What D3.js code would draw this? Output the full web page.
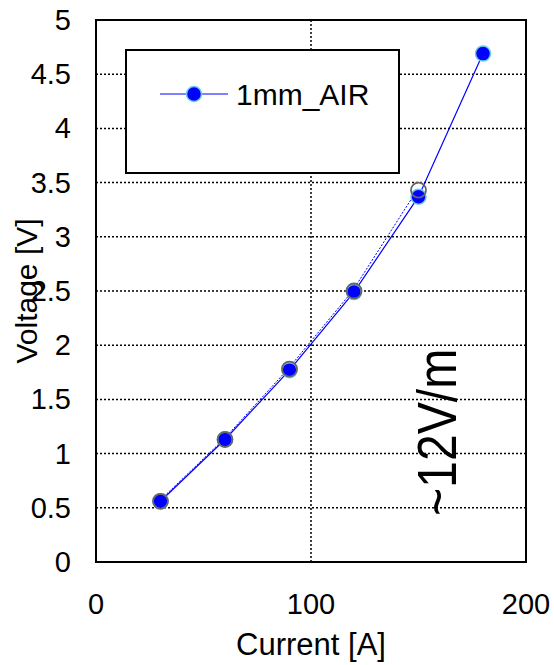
<!DOCTYPE html>
<html><head><meta charset="utf-8">
<script src="https://cdn.jsdelivr.net/npm/d3@7"></script>
<style>body{margin:0;background:#fff}text{font-family:"Liberation Sans",Arial,sans-serif;fill:#000}</style>
</head><body><svg id="c" width="554" height="665"></svg>
<script>
const current = [30, 60, 90, 120, 150, 180];
const voltage = [0.56, 1.13, 1.77, 2.49, 3.37, 4.69];
const current2 = [30, 60, 90, 120, 150];
const voltage2 = [0.56, 1.13, 1.78, 2.50, 3.43];
const xTicks = [0, 100, 200];
const yTicks = [0, 0.5, 1, 1.5, 2, 2.5, 3, 3.5, 4, 4.5, 5];
const seriesName = "1mm_AIR";

const svg = d3.select("#c");
const x = d3.scaleLinear().domain([0, 200]).range([96, 526]);
const y = d3.scaleLinear().domain([0, 5]).range([562, 20]);

// gridlines
svg.append("g").selectAll("line").data(yTicks.filter(d => d > 0 && d < 5)).join("line")
  .attr("x1", x(0)).attr("x2", x(200)).attr("y1", d => y(d)).attr("y2", d => y(d))
  .attr("stroke", "#000").attr("stroke-width", 1.5).attr("stroke-dasharray", "2,2");
svg.append("g").selectAll("line").data(xTicks.filter(d => d > 0 && d < 200)).join("line")
  .attr("x1", d => x(d)).attr("x2", d => x(d)).attr("y1", y(0)).attr("y2", y(5))
  .attr("stroke", "#000").attr("stroke-width", 1.5).attr("stroke-dasharray", "2,2");

// frame
svg.append("rect").attr("x", x(0)).attr("y", y(5)).attr("width", x(200) - x(0)).attr("height", y(0) - y(5))
  .attr("fill", "none").attr("stroke", "#000").attr("stroke-width", 2);

// tick labels
svg.append("g").selectAll("text").data(yTicks).join("text")
  .attr("x", 71).attr("y", d => y(d) + 10).attr("text-anchor", "end").attr("font-size", 29)
  .text(d => d);
svg.append("g").selectAll("text").data(xTicks).join("text")
  .attr("x", d => x(d)).attr("y", 614).attr("text-anchor", "middle").attr("font-size", 29)
  .text(d => d);

// axis titles
svg.append("text").attr("x", x(100)).attr("y", 655).attr("text-anchor", "middle").attr("font-size", 31).text("Current [A]");
svg.append("text").attr("transform", `translate(37,${y(2.5)}) rotate(-90)`).attr("text-anchor", "middle").attr("font-size", 30).text("Voltage [V]");

// legend
svg.append("rect").attr("x", 126).attr("y", 50).attr("width", 273).attr("height", 123)
  .attr("fill", "#fff").attr("stroke", "#000").attr("stroke-width", 2);
svg.append("line").attr("x1", 160).attr("x2", 228).attr("y1", 94).attr("y2", 94).attr("stroke", "#0000ff").attr("stroke-width", 1.2);
svg.append("circle").attr("cx", 194).attr("cy", 94).attr("r", 7.5).attr("fill", "#0000ff").attr("stroke", "#66ccee").attr("stroke-width", 1.5);
svg.append("text").attr("x", 236).attr("y", 105).attr("font-size", 30).text(seriesName);

// second series dashed line
const line = d3.line().x(d => x(d[0])).y(d => y(d[1]));
svg.append("path").datum(current2.map((c, i) => [c, voltage2[i]])).attr("d", line)
  .attr("fill", "none").attr("stroke", "#0000ff").attr("stroke-width", 1).attr("stroke-dasharray", "2,1.5")
  .attr("transform", "translate(-1.5,0)");
// main series line
svg.append("path").datum(current.map((c, i) => [c, voltage[i]])).attr("d", line)
  .attr("fill", "none").attr("stroke", "#0000ff").attr("stroke-width", 1.2);

// main markers
svg.append("g").selectAll("circle").data(current.map((c, i) => [c, voltage[i]])).join("circle")
  .attr("cx", d => x(d[0])).attr("cy", d => y(d[1])).attr("r", 7.5)
  .attr("fill", "#0000ff").attr("stroke", "#66ccee").attr("stroke-width", 1.5);
// second series markers (grey rings)
svg.append("g").selectAll("circle").data(current2.map((c, i) => [c, voltage2[i]])).join("circle")
  .attr("cx", d => x(d[0])).attr("cy", d => y(d[1])).attr("r", 7.5)
  .attr("fill", "none").attr("stroke", "#666").attr("stroke-width", 1.8);

// annotation
svg.append("text").attr("transform", "translate(456,516) rotate(-90) scale(0.86,1)").attr("font-size", 56).text("~12V/m");
</script></body></html>
